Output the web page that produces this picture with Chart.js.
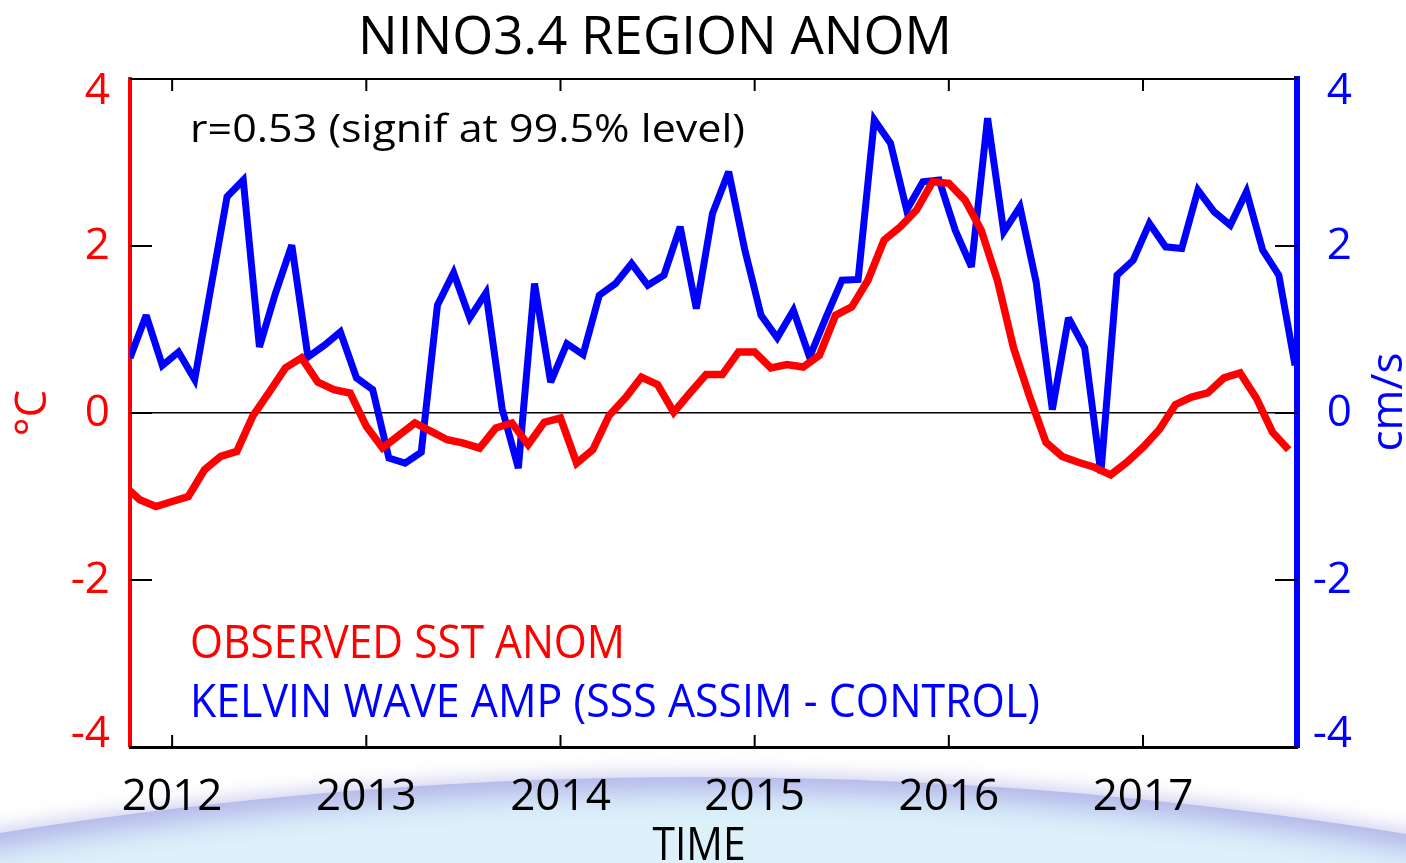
<!DOCTYPE html>
<html lang="en">
<head>
<meta charset="UTF-8">
<title>NINO3.4 Region Anom</title>
<script src="https://cdn.jsdelivr.net/npm/chart.js@4.4.0/dist/chart.umd.min.js"></script>
<style>
  html, body { margin: 0; padding: 0; background: #fff; overflow: hidden; }
  #wrap { position: relative; width: 1406px; height: 863px; overflow: hidden; background: #fff; }
  /* the earth limb behind the time axis */
  #globe {
    position: absolute; left: -3700px; top: 777px; width: 8800px; height: 8800px;
    border-radius: 50%;
    background: #dcf1fa;
    box-shadow: 0 0 16px 6px rgba(176, 176, 232, 0.5), inset 0 0 28px 14px #b2b3e8;
  }
  #chart { position: absolute; left: 0; top: 0; }
</style>
</head>
<body>
<div id="wrap">
  <div id="globe"></div>
  <canvas id="chart" width="1406" height="863"></canvas>
</div>

<script>
  const RED = '#ff0000';
  const BLUE = '#0000ff';
  const FONT = '"Open Sans", "Noto Sans", sans-serif';

  // monthly samples, Oct 2011 - Oct 2017
  const MONTHS = [
    '2011-10', '2011-11', '2011-12',
    '2012-01', '2012-02', '2012-03', '2012-04', '2012-05', '2012-06', '2012-07', '2012-08', '2012-09', '2012-10', '2012-11', '2012-12',
    '2013-01', '2013-02', '2013-03', '2013-04', '2013-05', '2013-06', '2013-07', '2013-08', '2013-09', '2013-10', '2013-11', '2013-12',
    '2014-01', '2014-02', '2014-03', '2014-04', '2014-05', '2014-06', '2014-07', '2014-08', '2014-09', '2014-10', '2014-11', '2014-12',
    '2015-01', '2015-02', '2015-03', '2015-04', '2015-05', '2015-06', '2015-07', '2015-08', '2015-09', '2015-10', '2015-11', '2015-12',
    '2016-01', '2016-02', '2016-03', '2016-04', '2016-05', '2016-06', '2016-07', '2016-08', '2016-09', '2016-10', '2016-11', '2016-12',
    '2017-01', '2017-02', '2017-03', '2017-04', '2017-05', '2017-06', '2017-07', '2017-08', '2017-09', '2017-10'
  ];

  // observed SST anomaly (degC), plotted at the 1st of the month
  const SST_ANOM = [
    -0.86, -1.04, -1.12,
    -1.06, -1.00, -0.68, -0.52, -0.46, -0.03, 0.25, 0.54, 0.66, 0.37, 0.28, 0.24,
    -0.16, -0.42, -0.27, -0.12, -0.22, -0.32, -0.36, -0.42, -0.18, -0.12, -0.38, -0.11,
    -0.06, -0.60, -0.44, -0.03, 0.18, 0.43, 0.34, 0.01, 0.24, 0.46, 0.46, 0.73,
    0.73, 0.54, 0.58, 0.55, 0.69, 1.17, 1.27, 1.59, 2.07, 2.23, 2.43, 2.77,
    2.75, 2.55, 2.19, 1.59, 0.78, 0.19, -0.35, -0.52, -0.59, -0.65, -0.74, -0.59,
    -0.41, -0.20, 0.10, 0.19, 0.24, 0.42, 0.48, 0.18, -0.23, -0.44
  ];

  // kelvin wave amplitude, SSS assim minus control (cm/s)
  const KELVIN_AMP = [
    0.66, 1.17, 0.57,
    0.73, 0.40, 1.50, 2.59, 2.79, 0.79, 1.44, 2.01, 0.67, 0.81, 0.97, 0.42,
    0.28, -0.54, -0.60, -0.47, 1.29, 1.68, 1.14, 1.44, 0.05, -0.66, 1.55, 0.37,
    0.83, 0.70, 1.41, 1.55, 1.79, 1.53, 1.65, 2.23, 1.25, 2.39, 2.89, 1.95,
    1.17, 0.90, 1.23, 0.67, 1.14, 1.59, 1.60, 3.51, 3.23, 2.43, 2.77, 2.79,
    2.19, 1.75, 3.53, 2.17, 2.47, 1.57, 0.04, 1.14, 0.78, -0.72, 1.65, 1.83,
    2.27, 1.99, 1.97, 2.67, 2.41, 2.25, 2.65, 1.95, 1.65, 0.57
  ];

  const YEAR_TICKS = [2012, 2013, 2014, 2015, 2016, 2017];
  const VALUE_TICKS = [-4, -2, 0, 2, 4];

  const SST_DAY = 1;
  const KELVIN_DAY = 13;
  const X_MIN = 2011.783;
  const X_MAX = 2017.793;

  function decimalYear(ym, day) {
    const [y, m] = ym.split('-').map(Number);
    return y + (m - 1) / 12 + (day - 1) / 365;
  }

  // end labels sit a little inside the frame, like the original plot;
  // an empty second line nudges them by half a (short) line height
  function valueLabel(v) {
    if (v === 4) return ['', '4'];
    if (v === -4) return ['-4', ''];
    return String(v);
  }

  Chart.defaults.font.family = FONT;

  function drawText(ctx, text, x, y, o) {
    ctx.save();
    ctx.font = o.size + 'px ' + FONT;
    ctx.fillStyle = o.color || '#000';
    ctx.textBaseline = 'alphabetic';
    ctx.textAlign = o.align || 'left';
    const w = ctx.measureText(text).width;
    ctx.translate(x, y);
    if (o.rotate) ctx.rotate(o.rotate);
    if (o.width) ctx.scale(o.width / w, 1);
    ctx.fillText(text, 0, 0);
    ctx.restore();
  }

  const decor = {
    id: 'decor',
    beforeDatasetsDraw(chart) {
      const { ctx, chartArea: a, scales: { x, y } } = chart;
      ctx.save();
      ctx.strokeStyle = '#000';
      ctx.lineWidth = 2;
      ctx.beginPath();
      x.ticks.forEach(t => {
        const px = x.getPixelForValue(t.value);
        ctx.moveTo(px, a.top); ctx.lineTo(px, a.top + 12);
        ctx.moveTo(px, a.bottom); ctx.lineTo(px, a.bottom - 12);
      });
      y.ticks.forEach(t => {
        const py = y.getPixelForValue(t.value);
        ctx.moveTo(a.left, py); ctx.lineTo(a.left + 22, py);
        ctx.moveTo(a.right, py); ctx.lineTo(a.right - 22, py);
      });
      ctx.moveTo(a.left, a.top); ctx.lineTo(a.right, a.top);
      ctx.stroke();
      ctx.restore();
      ctx.miterLimit = 3;
    },
    afterDraw(chart) {
      const ctx = chart.ctx;
      drawText(ctx, 'NINO3.4 REGION ANOM', 655, 54, { size: 53, align: 'center', width: 594 });
      drawText(ctx, 'r=0.53 (signif at 99.5% level)', 190, 142, { size: 38, width: 555 });
      drawText(ctx, 'OBSERVED SST ANOM', 190, 658, { size: 45, color: RED, width: 435 });
      drawText(ctx, 'KELVIN WAVE AMP (SSS ASSIM - CONTROL)', 190, 717, { size: 45, color: BLUE, width: 850 });
      drawText(ctx, 'TIME', 699, 860, { size: 46, align: 'center', width: 93 });
      drawText(ctx, '\u00B0C', 46, 413, { size: 44, color: RED, align: 'center', rotate: -Math.PI / 2 });
      drawText(ctx, 'cm/s', 1402, 402, { size: 44, color: BLUE, align: 'center', rotate: -Math.PI / 2 });
    }
  };

  new Chart(document.getElementById('chart'), {
    type: 'line',
    data: {
      datasets: [
        {
          label: 'OBSERVED SST ANOM',
          data: SST_ANOM.map((v, i) => ({ x: decimalYear(MONTHS[i], SST_DAY), y: v })),
          yAxisID: 'y',
          borderColor: RED,
          borderWidth: 7.5,
          pointRadius: 0,
          tension: 0,
          clip: 0
        },
        {
          label: 'KELVIN WAVE AMP (SSS ASSIM - CONTROL)',
          data: KELVIN_AMP.map((v, i) => ({ x: decimalYear(MONTHS[i], KELVIN_DAY), y: v })),
          yAxisID: 'y1',
          borderColor: BLUE,
          borderWidth: 7,
          pointRadius: 0,
          tension: 0,
          clip: 0
        }
      ]
    },
    options: {
      responsive: false,
      animation: false,
      layout: { padding: { top: 79, right: 54, bottom: 0, left: 0 } },
      plugins: {
        legend: { display: false },
        tooltip: { enabled: false },
        title: { display: false }
      },
      scales: {
        x: {
          type: 'linear',
          position: 'bottom',
          min: X_MIN,
          max: X_MAX,
          grid: { display: false, drawTicks: false },
          border: { color: '#000', width: 3 },
          ticks: {
            color: '#000',
            font: { size: 44 },
            padding: 24,
            maxRotation: 0,
            autoSkip: false,
            callback: v => String(v)
          },
          afterBuildTicks: s => { s.ticks = YEAR_TICKS.map(v => ({ value: v })); },
          afterFit: s => { s.height = 116; }
        },
        y: {
          position: 'left',
          min: -4,
          max: 4,
          grid: {
            drawTicks: false,
            color: c => (c.tick && c.tick.value === 0 ? '#000' : 'rgba(0,0,0,0)'),
            lineWidth: 1.5
          },
          border: { color: RED, width: 4 },
          ticks: { color: RED, font: { size: 44, lineHeight: 0.55 }, padding: 20, callback: valueLabel },
          afterBuildTicks: s => { s.ticks = VALUE_TICKS.map(v => ({ value: v })); },
          afterFit: s => { s.width = 130; }
        },
        y1: {
          position: 'right',
          min: -4,
          max: 4,
          grid: { display: false, drawTicks: false },
          border: { color: BLUE, width: 6 },
          ticks: { color: BLUE, font: { size: 44, lineHeight: 0.55 }, crossAlign: 'far', callback: valueLabel },
          afterBuildTicks: s => { s.ticks = VALUE_TICKS.map(v => ({ value: v })); },
          afterFit: s => { s.width = 55; }
        }
      }
    },
    plugins: [decor]
  });
</script>
</body>
</html>
